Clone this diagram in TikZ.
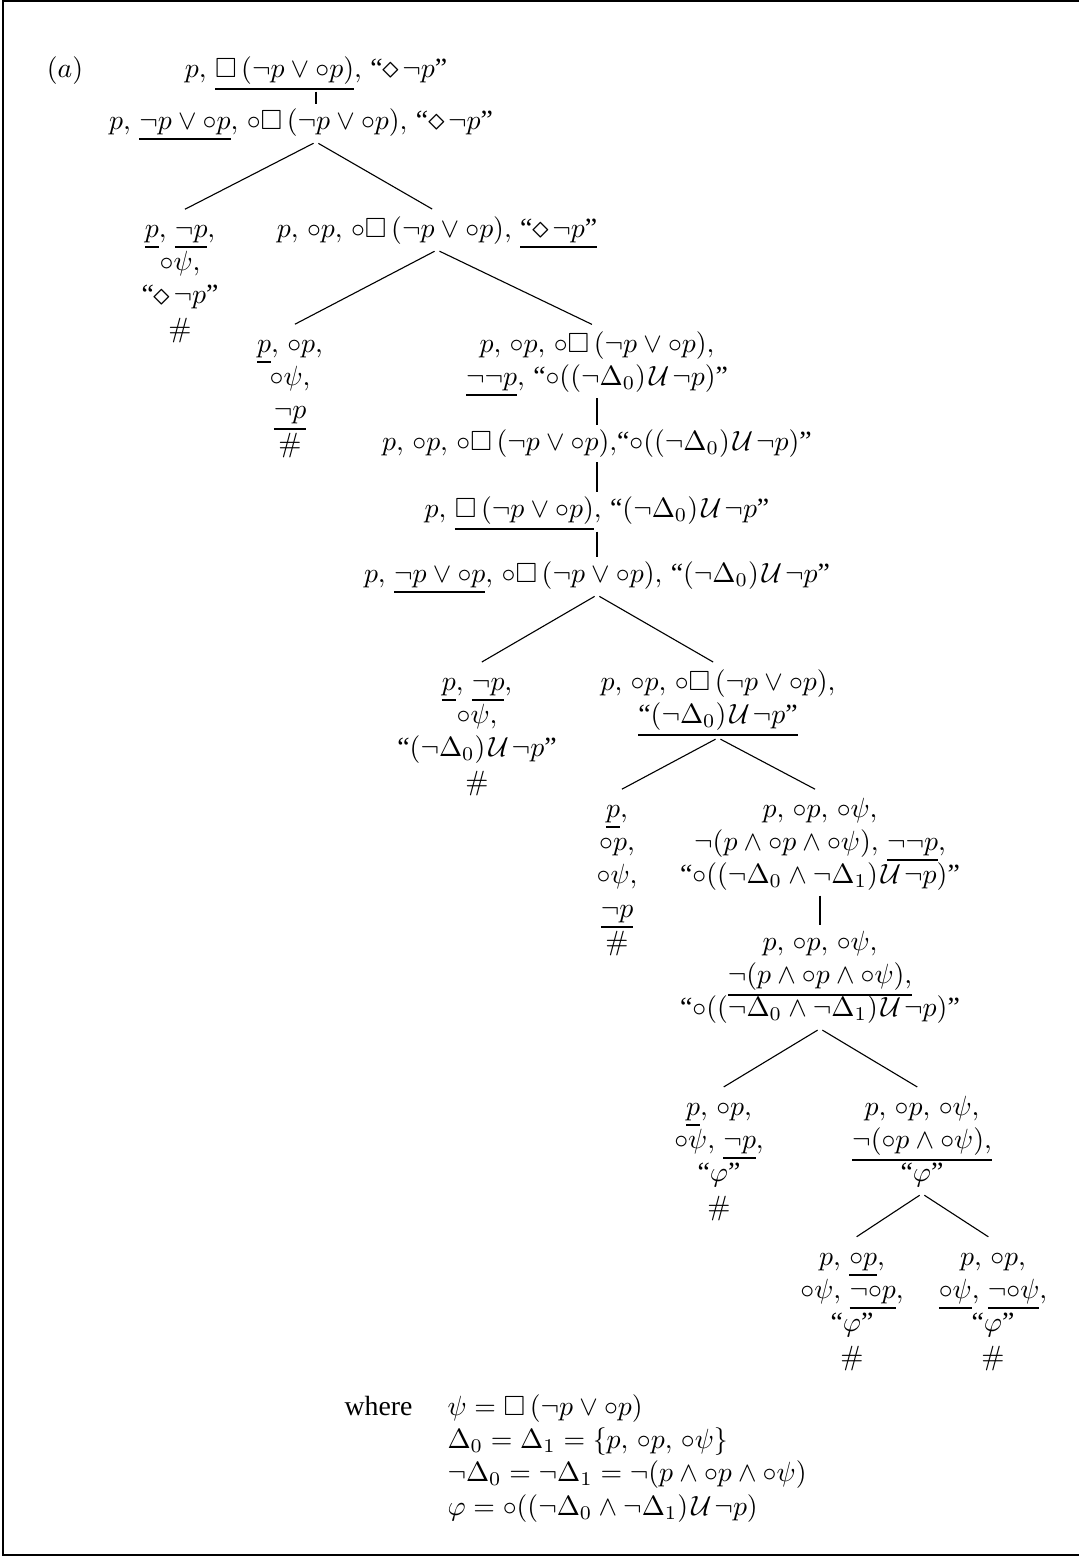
\documentclass[tikz,border=0pt]{standalone}
\usepackage{amsmath,amssymb,graphicx}
\usepackage[no-math]{fontspec}
\setmainfont{Liberation Serif}
\lineskiplimit=-100pt
\lineskip=0pt
\thinmuskip=5.5mu
\makeatletter
\newcommand\ul[1]{\mathord{\vtop{\hbox{$\m@th#1$}\kern1.3pt\hrule height0.7pt}}}
\makeatother
\newcommand\nx{\mathord{\circ}}
\newcommand\bx{\square\mkern3mu}
\newcommand\dm{\mathord{\raisebox{-0.5pt}{\scalebox{1.2}{$\diamond$}}}\mkern2mu}
\newcommand\UU{\mkern2mu\mathcal{U}\mkern2mu}
\newcommand\q[1]{\text{“}#1\text{”}}
\tikzset{
  tn/.style={anchor=north, align=center, inner xsep=0pt, inner ysep=0.5pt, font=\normalsize},
  br/.style={line width=0.4pt, shorten <=1pt, shorten >=2pt},
  vl/.style={line width=0.8pt},
}
\begin{document}
\begin{tikzpicture}[x=0.36pt,y=-0.36pt]
\useasboundingbox (0,0) rectangle (1079,1558);
\draw[line width=0.8pt] (1095,1) -- (3,1) -- (3,1555) -- (1095,1555);
% nodes
\node[tn] (lab) at (65,51.8) {\strut$(a)$};
\node[tn] (A) at (316,51.8) {\strut$p, \ul{\bx(\neg p\vee\nx p)}, \q{\dm\neg p}$\strut};
\node[tn] (B) at (301,103.8) {\strut$p, \ul{\neg p\vee\nx p}, \nx\bx(\neg p\vee\nx p), \q{\dm\neg p}$\strut};
\node[tn] (C) at (180,211.8) {\strut$\ul{p}, \ul{\neg p},$\\$\nx\psi,$\\$\q{\dm\neg p}$\\$\#$\strut};
\node[tn] (D) at (437,211.8) {\strut$p, \nx p, \nx\bx(\neg p\vee\nx p), \ul{\q{\dm\neg p}}$\strut};
\node[tn] (E) at (290,326.8) {\strut$\ul{p}, \nx p,$\\$\nx\psi,$\\$\ul{\neg p}$\\$\#$\strut};
\node[tn] (F) at (597,326.8) {\strut$p, \nx p, \nx\bx(\neg p\vee\nx p),$\\$\ul{\neg\neg p}, \q{\nx((\neg\Delta_0)\UU\neg p)}$\strut};
\node[tn] (G) at (597,424.8) {\strut$p, \nx p, \nx\bx(\neg p\vee\nx p),\!\q{\nx((\neg\Delta_0)\UU\neg p)}$\strut};
\node[tn] (H) at (597,491.8) {\strut$p, \ul{\bx(\neg p\vee\nx p)}, \q{(\neg\Delta_0)\UU\neg p}$\strut};
\node[tn] (I) at (597,556.8) {\strut$p, \ul{\neg p\vee\nx p}, \nx\bx(\neg p\vee\nx p), \q{(\neg\Delta_0)\UU\neg p}$\strut};
\node[tn] (J) at (477,664.8) {\strut$\ul{p}, \ul{\neg p},$\\$\nx\psi,$\\$\q{(\neg\Delta_0)\UU\neg p}$\\$\#$\strut};
\node[tn] (K) at (718,664.8) {\strut$p, \nx p, \nx\bx(\neg p\vee\nx p),$\\$\ul{\q{(\neg\Delta_0)\UU\neg p}}$\strut};
\node[tn] (L) at (617,791.8) {\strut$\ul{p},$\\$\nx p,$\\$\nx\psi,$\\$\ul{\neg p}$\\$\#$\strut};
\node[tn] (M) at (820,791.8) {\strut$p, \nx p, \nx\psi,$\\$\neg(p\wedge\nx p\wedge\nx\psi), \ul{\neg\neg p},$\\$\q{\nx((\neg\Delta_0\wedge\neg\Delta_1)\UU\neg p)}$\strut};
\node[tn] (N) at (820,924.8) {\strut$p, \nx p, \nx\psi,$\\$\ul{\neg(p\wedge\nx p\wedge\nx\psi),}$\\$\q{\nx((\neg\Delta_0\wedge\neg\Delta_1)\UU\neg p)}$\strut};
\node[tn] (O) at (719,1089.8) {\strut$\ul{p}, \nx p,$\\$\nx\psi, \ul{\neg p},$\\$\q{\varphi}$\\$\#$\strut};
\node[tn] (P) at (922,1089.8) {\strut$p, \nx p, \nx\psi,$\\$\ul{\neg(\nx p\wedge\nx\psi),}$\\$\q{\varphi}$\strut};
\node[tn] (Q) at (852,1239.8) {\strut$p, \ul{\nx p},$\\$\nx\psi, \ul{\neg\nx p},$\\$\q{\varphi}$\\$\#$\strut};
\node[tn] (R) at (993,1239.8) {\strut$p, \nx p,$\\$\ul{\nx\psi}, \ul{\neg\nx\psi},$\\$\q{\varphi}$\\$\#$\strut};
\node[tn, anchor=north east] (wh) at (413,1389.8) {\strut where};
\node[tn, anchor=north west, align=left] (defs) at (447,1389.8) {\strut$\psi = \bx(\neg p\vee\nx p)$\\
  $\Delta_0=\Delta_1=\{p,\nx p,\nx\psi\}$\\
  $\neg\Delta_0=\neg\Delta_1=\neg(p\wedge\nx p\wedge\nx\psi)$\\
  $\varphi=\nx((\neg\Delta_0\wedge\neg\Delta_1)\UU\neg p)$\strut};
% connectors
\draw[vl] (A.south) -- (A.south |- B.north);
\coordinate (Bap) at (A.south |- B.south);
\draw[br] (Bap) -- (C.north);
\draw[br] (Bap) -- (D.north);
\draw[br] (D.south) -- (E.north);
\draw[br] (D.south) -- (F.north);
\draw[vl] (F.south) -- (G.north);
\draw[vl] (G.south) -- (H.north);
\draw[vl] (H.south) -- (I.north);
\draw[br] (I.south) -- (J.north);
\draw[br] (I.south) -- (K.north);
\draw[br] (K.south) -- (L.north);
\draw[br] (K.south) -- (M.north);
\draw[vl] (M.south) -- (N.north);
\draw[br] (N.south) -- (O.north);
\draw[br] (N.south) -- (P.north);
\draw[br] (P.south) -- (Q.north);
\draw[br] (P.south) -- (R.north);
\end{tikzpicture}
\end{document}
